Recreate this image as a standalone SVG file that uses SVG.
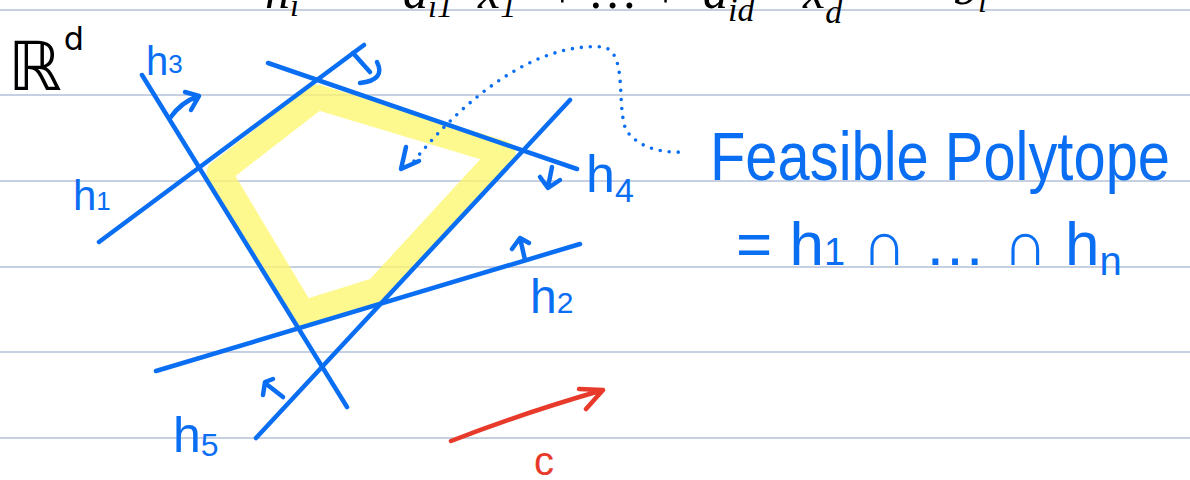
<svg xmlns="http://www.w3.org/2000/svg" width="1190" height="480" viewBox="0 0 1190 480">
<style>
.rule{stroke:#b4c1d7;stroke-width:1.6}
.ln{stroke:#0a6ef2;stroke-width:4.5;stroke-linecap:round;stroke-linejoin:round;fill:none}
.red{stroke:#e83a2a;stroke-width:4.5;stroke-linecap:round;stroke-linejoin:round;fill:none}
.dot{stroke:#0a6ef2;stroke-width:3.6;stroke-linecap:round;stroke-dasharray:0 9;fill:none}
.lbl{font-family:"Liberation Sans",Arial,sans-serif;fill:#0a6ef2}
.blk{font-family:"Liberation Serif","DejaVu Serif",serif;font-style:italic;fill:#000}
</style>
<rect width="1190" height="480" fill="#fff"/>
<g id="rules">
<line class="rule" x1="0" y1="10" x2="1190" y2="10"/>
<line class="rule" x1="0" y1="95" x2="1190" y2="95"/>
<line class="rule" x1="0" y1="181" x2="1190" y2="181"/>
<line class="rule" x1="0" y1="267" x2="1190" y2="267"/>
<line class="rule" x1="0" y1="352" x2="1190" y2="352"/>
<line class="rule" x1="0" y1="438" x2="1190" y2="438"/>
</g>
<g id="top-formula" class="blk" font-size="50">
<text x="265" y="8">h<tspan font-size="32" dy="8">i</tspan></text>
<text x="335" y="8">=</text>
<text x="403" y="8">a<tspan font-size="32" dy="9">i1</tspan></text>
<text x="478" y="8">x<tspan font-size="32" dy="9">1</tspan></text>
<text x="545" y="8">+ … +</text>
<text x="703" y="8">a<tspan font-size="34" dy="13">id</tspan></text>
<text x="803" y="8">x<tspan font-size="34" dy="15">d</tspan></text>
<text x="890" y="8">=</text>
<text x="953" y="4">b<tspan font-size="32" dy="8">i</tspan></text>
</g>
<g id="Rd">
<text x="8" y="90" font-family="DejaVu Sans,sans-serif" font-size="68" fill="#000">ℝ<tspan font-size="32" dx="2" dy="-40">d</tspan></text>
</g>
<g id="polytope">
<polygon points="219,173 317,97 503,153 377,290 303,313" fill="none" stroke="#fdf76a" stroke-opacity="0.75" stroke-width="25" stroke-linejoin="round"/>
</g>
<g id="connectors">
<line class="ln" id="l-h3" x1="142" y1="75" x2="347" y2="407"/>
<line class="ln" id="l-h1" x1="99" y1="242" x2="364" y2="45"/>
<line class="ln" id="l-h4" x1="268" y1="63" x2="577" y2="169"/>
<line class="ln" id="l-h5" x1="256" y1="438" x2="570" y2="100"/>
<line class="ln" id="l-h2" x1="156" y1="371" x2="580" y2="244"/>
<path class="ln" d="M170,118 Q181,102 199,96 M185,92 L199,96 L191,110"/>
<path class="ln" d="M353,53 L370,72 M377,62 Q386,80 360,83"/>
<path class="ln" d="M552,167 L548,187 M540,177 L548,188 L560,180"/>
<path class="ln" d="M525,260 L520,238 M512,249 L520,238 L529,243"/>
<path class="ln" d="M283,397 L265,383 M263,395 L265,382 L273,379"/>
<path class="dot" d="M414,161 C465,98 535,42 603,47 C628,52 616,105 626,130 C640,150 665,153 686,152"/>
<path class="ln" d="M406,147 L401,169 L419,161"/>
<path class="red" d="M451,441 Q520,414 603,390 M579,389 L603,390 L586,409"/>
</g>
<g id="labels" class="lbl">
<text x="146" y="75" font-size="40">h<tspan font-size="26" dy="-2">3</tspan></text>
<text x="73" y="210" font-size="42">h<tspan font-size="26" dy="0">1</tspan></text>
<text x="586" y="192" font-size="52">h<tspan font-size="34" dy="10">4</tspan></text>
<text x="530" y="313" font-size="48">h<tspan font-size="30" dy="0">2</tspan></text>
<text x="173" y="452" font-size="50">h<tspan font-size="32" dy="4">5</tspan></text>
<text x="534" y="475" font-size="40" fill="#e83a2a">c</text>
</g>
<g id="feasible" class="lbl">
<text x="710" y="180" font-size="68" textLength="460" lengthAdjust="spacingAndGlyphs">Feasible Polytope</text>
<text x="736" y="265" font-size="62">= h<tspan font-size="38">1</tspan> ∩ … ∩ h<tspan font-size="40" dy="10">n</tspan></text>
</g>
</svg>
